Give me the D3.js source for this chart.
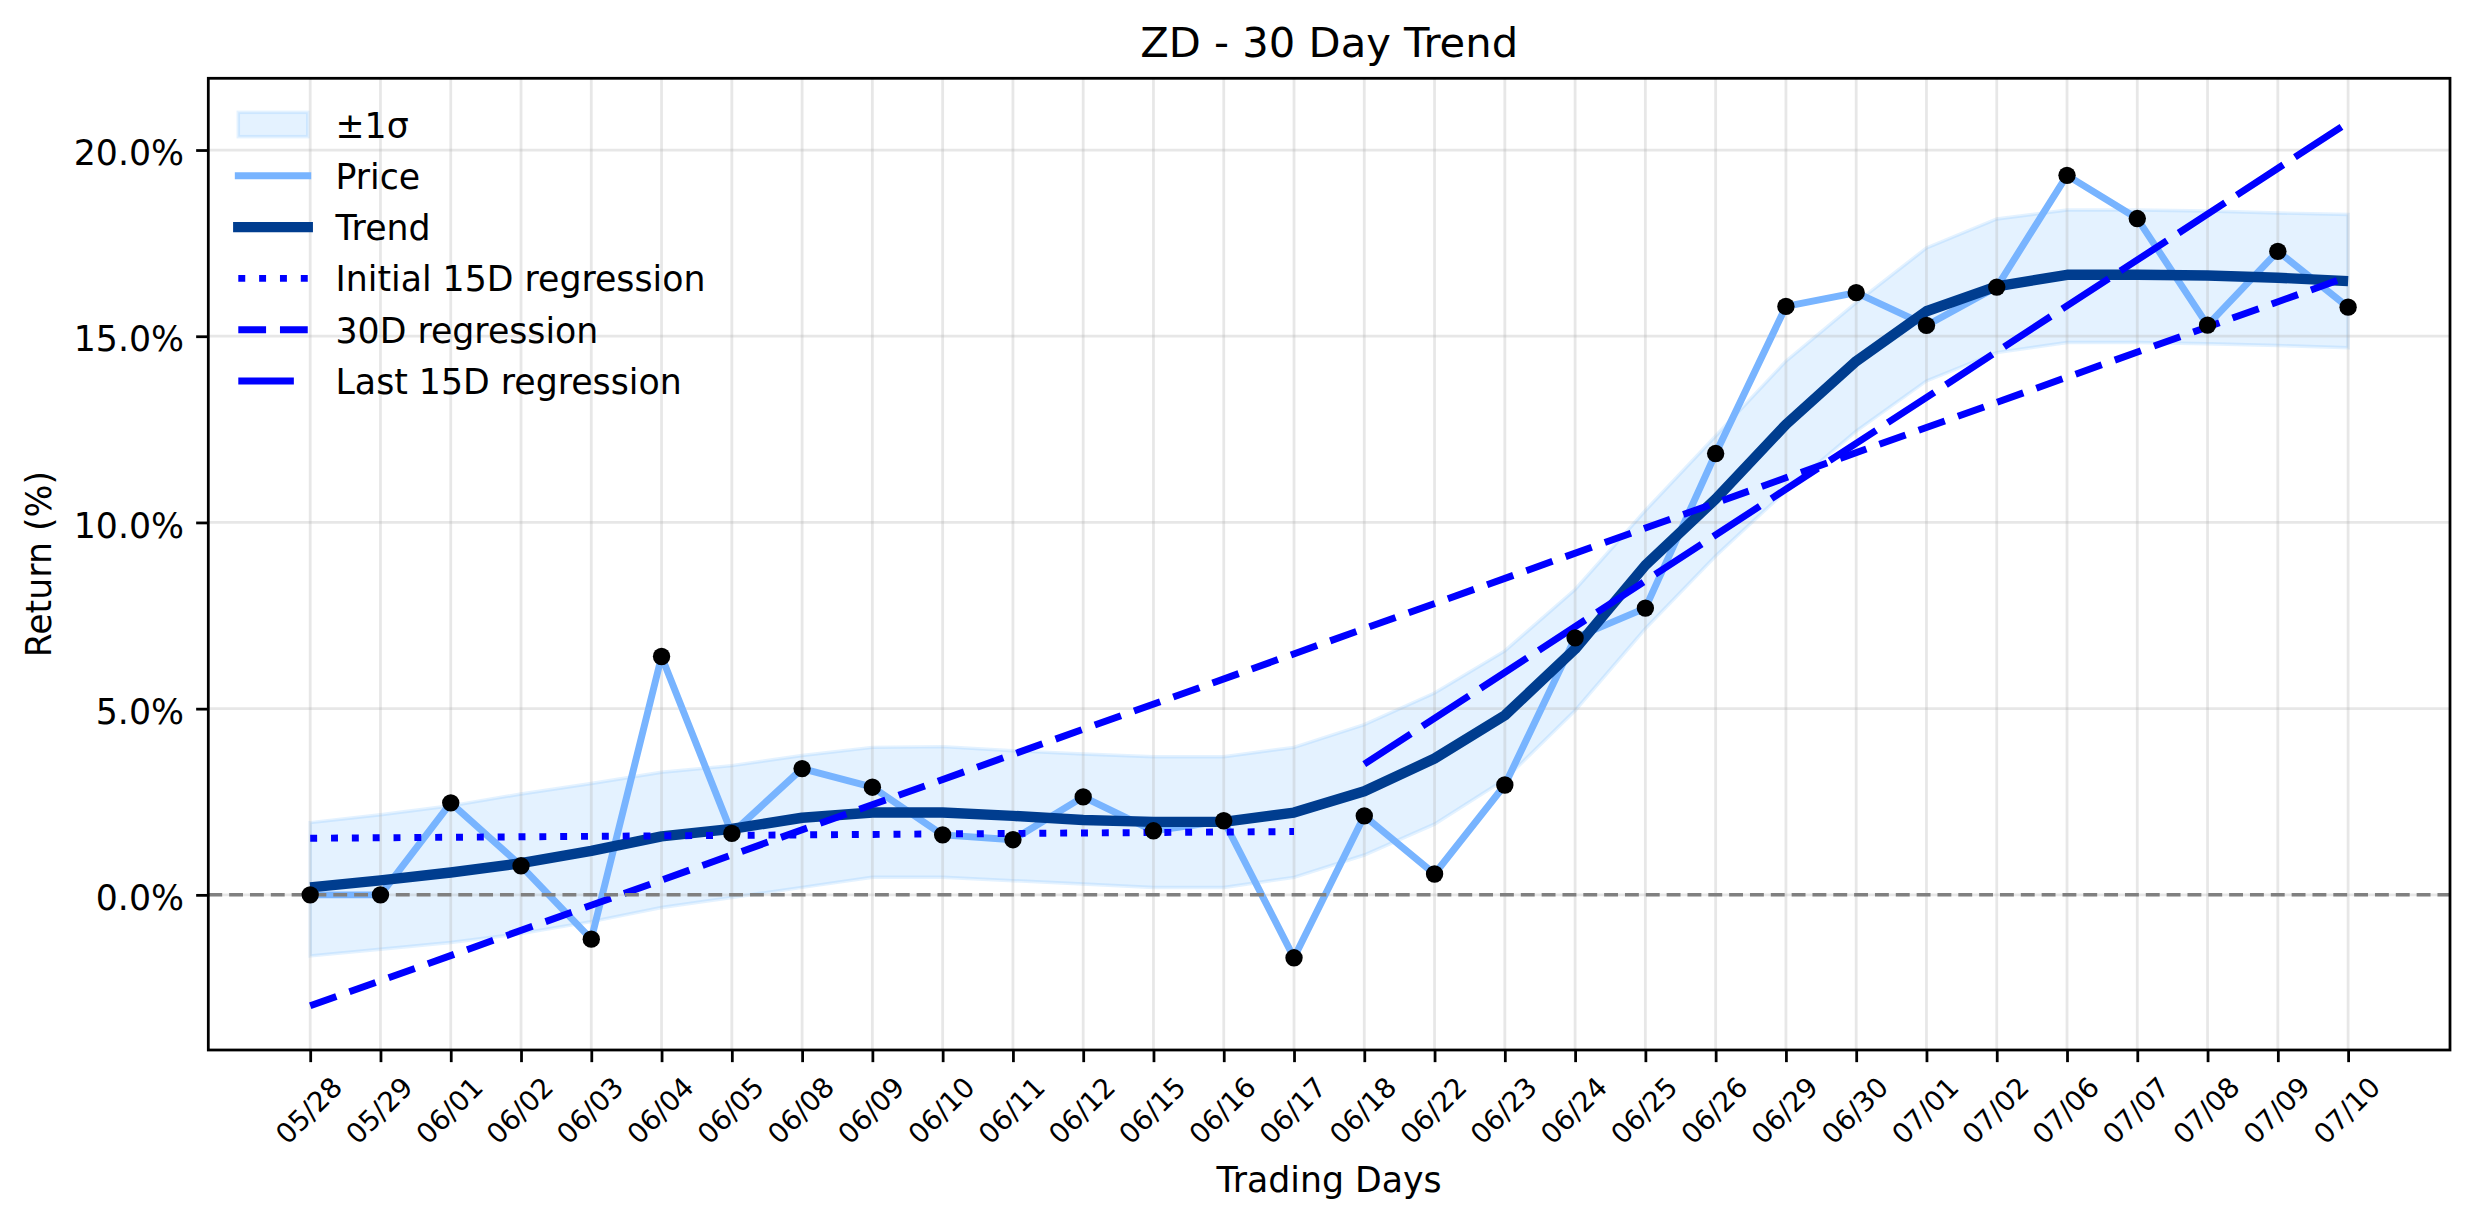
<!DOCTYPE html>
<html><head><meta charset="utf-8">
<script src="https://cdn.jsdelivr.net/npm/d3@7"></script>
<style>
body{margin:0;background:#fff}
svg{display:block}
text{font-family:"DejaVu Sans",sans-serif;fill:#000}
</style>
</head><body>
<svg id="c" width="2474" height="1224"></svg>
<script>
// ---------- data ----------
const dates = ["05/28","05/29","06/01","06/02","06/03","06/04","06/05","06/08","06/09","06/10",
  "06/11","06/12","06/15","06/16","06/17","06/18","06/22","06/23","06/24","06/25",
  "06/26","06/29","06/30","07/01","07/02","07/06","07/07","07/08","07/09","07/10"];
const price = [0.00,0.00,2.47,0.78,-1.19,6.40,1.65,3.39,2.89,1.61,
  1.48,2.63,1.72,1.99,-1.69,2.12,0.56,2.95,6.90,7.70,
  11.85,15.80,16.17,15.29,16.32,19.32,18.16,15.30,17.28,15.78];
const trend = [0.20,0.39,0.60,0.85,1.18,1.57,1.77,2.07,2.21,2.21,
  2.12,2.01,1.96,1.96,2.21,2.78,3.66,4.82,6.60,8.85,
  10.63,12.63,14.33,15.67,16.34,16.65,16.65,16.63,16.57,16.48];
const bandUpper = [1.94,2.15,2.39,2.71,2.99,3.29,3.47,3.74,3.96,3.98,
  3.87,3.78,3.71,3.71,3.96,4.57,5.42,6.55,8.20,10.32,
  12.32,14.33,15.90,17.37,18.15,18.39,18.39,18.36,18.31,18.27];
const bandLower = [-1.64,-1.46,-1.28,-1.04,-0.72,-0.34,-0.07,0.20,0.47,0.47,
  0.38,0.29,0.20,0.20,0.47,1.07,1.90,3.10,4.95,7.15,
  9.10,10.85,12.45,13.80,14.56,14.83,14.83,14.80,14.75,14.69];
const regInitialX = [0,14];  const regInitialY = [1.52,1.70];
const reg30X = [0,29];       const reg30Y = [-2.98,16.60];
const regLastX = [15,29];    const regLastY = [3.51,20.74];
const yTicks = [0,5,10,15,20];
const legendLabels = ["±1σ","Price","Trend","Initial 15D regression","30D regression","Last 15D regression"];

// ---------- layout ----------
const L=208.3, R=2450, T=78.3, B=1050;
const PT=250/72; // px per point
const svg = d3.select("#c");

const n = dates.length;
const x = d3.scaleLinear().domain([-0.05*(n-1), (n-1)*1.05]).range([L,R]);
const allV = price.concat(bandUpper,bandLower,regInitialY,reg30Y,regLastY);
const lo = d3.min(allV), hi = d3.max(allV), pad=(hi-lo)*0.05;
const y = d3.scaleLinear().domain([lo-pad, hi+pad]).range([B,T]);

const BLUE_BAND="#1e90ff";
const PRICE_C="#78b4ff", TREND_C="#003d8f", REG_C="#0000ff";

// clip
svg.append("defs").append("clipPath").attr("id","clip")
  .append("rect").attr("x",L).attr("y",T).attr("width",R-L).attr("height",B-T);
const plot = svg.append("g").attr("clip-path","url(#clip)");

// band
const area = d3.area().x((d,i)=>x(i)).y0((d,i)=>y(bandLower[i])).y1((d,i)=>y(bandUpper[i]));
plot.append("path").datum(bandUpper).attr("d",area)
  .attr("fill",BLUE_BAND).attr("fill-opacity",0.12)
  .attr("stroke",BLUE_BAND).attr("stroke-opacity",0.12).attr("stroke-width",1*PT);

// grid
const gridG = plot.append("g");
d3.range(n).forEach(i=>{
  gridG.append("line").attr("x1",x(i)).attr("x2",x(i)).attr("y1",T).attr("y2",B)
    .attr("stroke","#b0b0b0").attr("stroke-opacity",0.3).attr("stroke-width",0.8*PT);
});
yTicks.forEach(t=>{
  gridG.append("line").attr("x1",L).attr("x2",R).attr("y1",y(t)).attr("y2",y(t))
    .attr("stroke","#b0b0b0").attr("stroke-opacity",0.3).attr("stroke-width",0.8*PT);
});

const line = d3.line().x((d,i)=>x(i)).y(d=>y(d));
// price
plot.append("path").datum(price).attr("d",line).attr("fill","none")
  .attr("stroke",PRICE_C).attr("stroke-width",2*PT).attr("stroke-linejoin","round");
// trend
plot.append("path").datum(trend).attr("d",line).attr("fill","none")
  .attr("stroke",TREND_C).attr("stroke-width",3*PT).attr("stroke-linejoin","round");

// regressions
const segLine = d3.line().x(d=>x(d[0])).y(d=>y(d[1]));
function reg(xs,ys,dash){
  plot.append("path").datum(d3.zip(xs,ys)).attr("d",segLine).attr("fill","none")
    .attr("stroke",REG_C).attr("stroke-width",2*PT).attr("stroke-dasharray",dash);
}
const dashDot = [1*2*PT,2*2*PT].join(",");
const dashDash = [4*2*PT,2*2*PT].join(",");
const dashLong = [8*2*PT,2*2*PT].join(",");
reg(regInitialX,regInitialY,dashDot);
reg(reg30X,reg30Y,dashDash);
reg(regLastX,regLastY,dashLong);

// zero line
plot.append("line").attr("x1",L).attr("x2",R).attr("y1",y(0)).attr("y2",y(0))
  .attr("stroke","#808080").attr("stroke-width",1*PT)
  .attr("stroke-dasharray",[4*PT,2*PT].join(","));

// dots
plot.selectAll("circle.pt").data(price).enter().append("circle")
  .attr("cx",(d,i)=>x(i)).attr("cy",d=>y(d)).attr("r",2.5*PT).attr("fill","#000");

// frame
svg.append("rect").attr("x",L).attr("y",T).attr("width",R-L).attr("height",B-T)
  .attr("fill","none").attr("stroke","#000").attr("stroke-width",0.8*PT);

// x axis
const fx = 8*PT;
const xAxis = d3.axisBottom(x).tickValues(d3.range(n)).tickFormat(i=>dates[i])
  .tickSize(3.5*PT).tickPadding(3.5*PT);
const gx = svg.append("g").attr("transform",`translate(0,${B})`).call(xAxis);
gx.select(".domain").remove();
gx.selectAll(".tick line").attr("stroke","#000").attr("stroke-width",0.8*PT);
gx.selectAll(".tick text").each(function(){
  const t=d3.select(this);
  t.attr("dy",null).attr("text-anchor","middle").style("font-size",fx+"px")
   .style("font-family","DejaVu Sans");
  const w=this.getComputedTextLength();
  const h=0.98*fx;
  const Hh=(w+h)/Math.SQRT2;
  const cy=7*PT+Hh/2;
  t.attr("y",0.26*fx).attr("transform",`translate(0,${cy}) rotate(-45)`);
});

// y axis
const fy = 10*PT;
const yAxis = d3.axisLeft(y).tickValues(yTicks).tickFormat(d=>d.toFixed(1)+"%")
  .tickSize(3.5*PT).tickPadding(3.5*PT);
const gy = svg.append("g").attr("transform",`translate(${L},0)`).call(yAxis);
gy.select(".domain").remove();
gy.selectAll(".tick line").attr("stroke","#000").attr("stroke-width",0.8*PT);
gy.selectAll(".tick text").attr("dy","0.42em").style("font-size",fy+"px")
  .style("font-family","DejaVu Sans");

// labels
svg.append("text").attr("x",(L+R)/2).attr("y",57.3).attr("text-anchor","middle")
  .style("font-size",(12*PT)+"px").text("ZD - 30 Day Trend");
svg.append("text").attr("x",(L+R)/2).attr("y",1192).attr("text-anchor","middle")
  .style("font-size",fy+"px").text("Trading Days");
svg.append("text").attr("transform",`translate(51,${(T+B)/2}) rotate(-90)`)
  .attr("text-anchor","middle").style("font-size",fy+"px").text("Return (%)");

// legend
const lg = svg.append("g");
const hx0=238.3, hlen=2*fy, rowY0=124.5, rowH=51.3, tx=hx0+hlen+0.8*fy;
legendLabels.forEach((lab,k)=>{
  const cy=rowY0+k*rowH;
  if(k===0){
    lg.append("rect").attr("x",hx0).attr("y",cy-0.35*fy).attr("width",hlen).attr("height",0.7*fy)
      .attr("fill",BLUE_BAND).attr("fill-opacity",0.12)
      .attr("stroke",BLUE_BAND).attr("stroke-opacity",0.12).attr("stroke-width",1*PT);
  } else {
    const ln=lg.append("line").attr("x1",hx0).attr("x2",hx0+hlen).attr("y1",cy).attr("y2",cy);
    if(k===1) ln.attr("stroke",PRICE_C).attr("stroke-width",2*PT).attr("stroke-linecap","square");
    if(k===2) ln.attr("stroke",TREND_C).attr("stroke-width",3*PT).attr("stroke-linecap","square");
    if(k===3) ln.attr("stroke",REG_C).attr("stroke-width",2*PT).attr("stroke-dasharray",dashDot);
    if(k===4) ln.attr("stroke",REG_C).attr("stroke-width",2*PT).attr("stroke-dasharray",dashDash);
    if(k===5) ln.attr("stroke",REG_C).attr("stroke-width",2*PT).attr("stroke-dasharray",dashLong);
  }
  lg.append("text").attr("x",tx).attr("y",cy+13).style("font-size",fy+"px").text(lab);
});
</script>
</body></html>
